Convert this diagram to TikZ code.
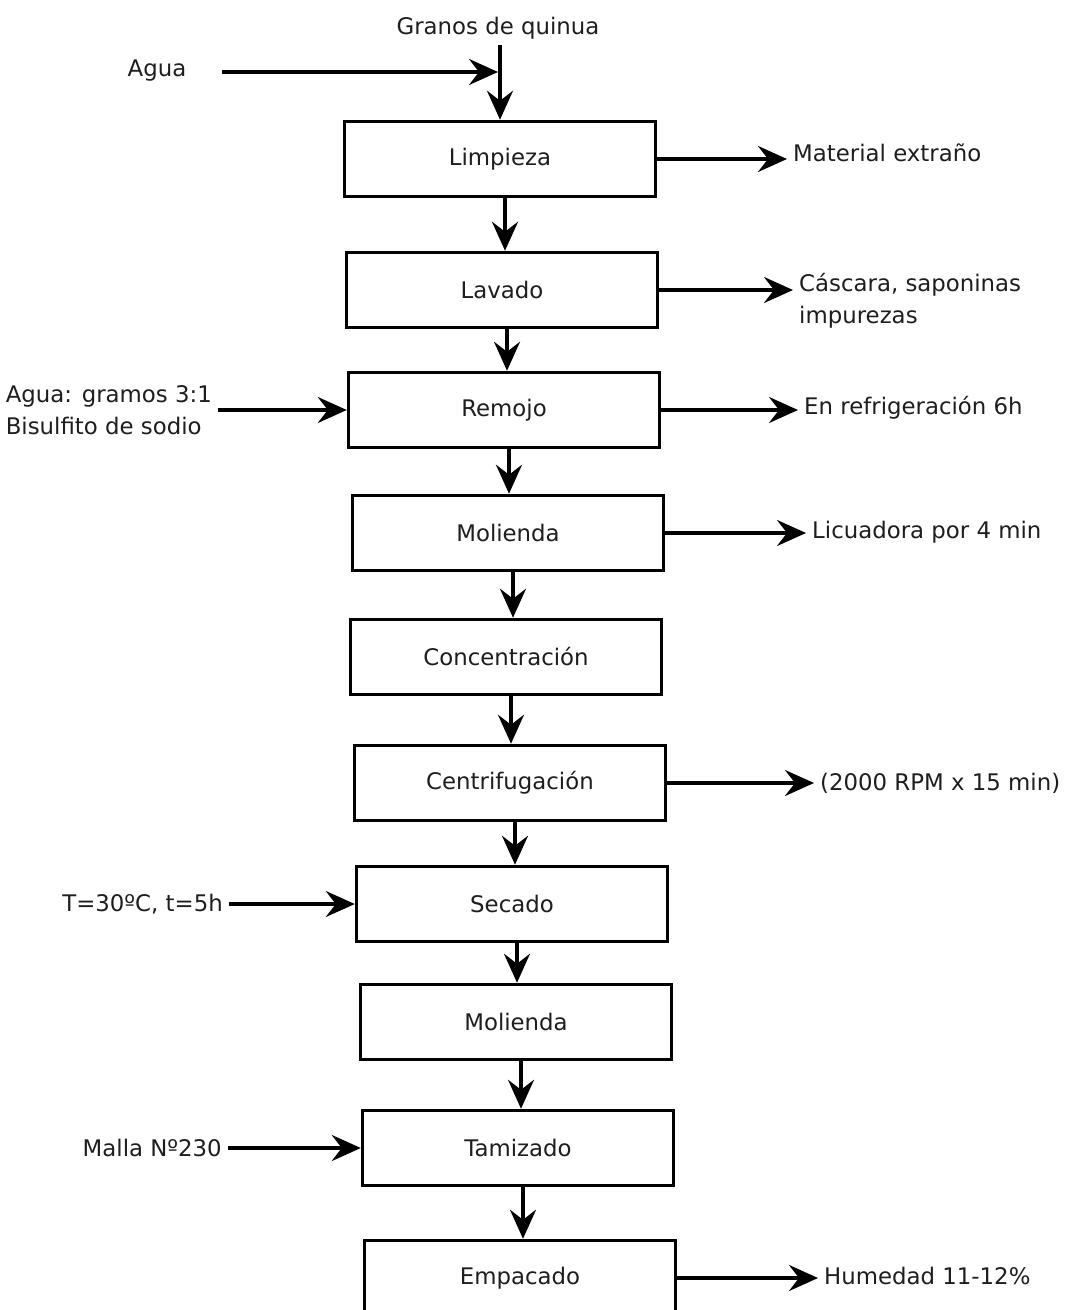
\documentclass[tikz,border=0pt]{standalone}
\usepackage{fontspec}
\setmainfont{DejaVu Sans}
\usepackage{tikz}
\usetikzlibrary{positioning, arrows.meta, calc}
\usepackage{xcolor}
\definecolor{flline}{HTML}{000000}
\definecolor{fltext}{HTML}{1E1E1E}

\begin{document}
\begin{tikzpicture}[x=0.02cm, y=-0.02cm, font=\fontsize{13}{18}\selectfont,
    proc/.style={draw=flline, line width=2pt, fill=white, text=fltext,
          minimum width=6.22cm, minimum height=1.5cm},
    side/.style={text=fltext, align=left},
    flow/.style={draw=flline, line width=2pt,
          -{Stealth[length=5.8mm, width=5.2mm, inset=2mm]}}]
    \clip (0,0) rectangle (1070,1310);
    \fill[white] (0,0) rectangle (1070,1310);
    % process steps
    \foreach \x/\y/\n/\w in {500/159/limpieza/Limpieza, 502/290/lavado/Lavado,
                          504/410/remojo/Remojo, 508/533/molienda/Molienda,
                          506/657/concentracion/Concentración,
                          510/783/centrifugacion/Centrifugación,
                          512/904/secado/Secado, 516/1022/molienda2/Molienda,
                          518/1148/tamizado/Tamizado, 520/1278/empacado/Empacado}{
      \node[proc] (\n) at (\x,\y) {\w};
    }
    \foreach \a/\b in {limpieza/lavado, lavado/remojo, remojo/molienda,
                       molienda/concentracion, concentracion/centrifugacion,
                       centrifugacion/secado, secado/molienda2,
                       molienda2/tamizado, tamizado/empacado}{
      \draw[flow] ([xshift=1mm]\a.south) -- ([xshift=1mm]\a.south |- \b.north);
    }
    % inputs
    \node[side] (granos) at (498,28) {Granos de quinua};
    \node[side] (agua) at (157,71) {Agua};
    \coordinate (aguain) at (222,72);
    \coordinate (junta) at (498,72);
    \draw[flow] (granos.south -| limpieza.north) -- (limpieza.north);
    \draw[flow] (aguain) -- (junta);
    \node[side, anchor=east] (aguaremojo) at (218,410) {Agua: gramos 3:1\\Bisulfito de sodio};
    \node[side, anchor=east] (temp) at (229,904) {T=30ºC, t=5h};
    \node[side, anchor=east] (malla) at (228,1148) {Malla Nº230};
    \draw[flow] (aguaremojo.east |- remojo.west) -- (remojo.west);
    \draw[flow] (temp.east |- secado.west) -- (secado.west);
    \draw[flow] (malla.east |- tamizado.west) -- (tamizado.west);
    % outputs
    \node[side, anchor=west] (extrano) at (787,153) {Material extraño};
    \node[side, anchor=west] (cascara) at (793,301) {Cáscara, saponinas\\impurezas};
    \node[side, anchor=west] (refri) at (798,408) {En refrigeración 6h};
    \node[side, anchor=west] (licua) at (806,532) {Licuadora por 4 min};
    \node[side, anchor=west] (rpm) at (814,783) {(2000 RPM x 15 min)};
    \node[side, anchor=west] (humedad) at (818,1276) {Humedad 11-12\%};
    \draw[flow] (limpieza.east) -- (limpieza.east -| extrano.west);
    \draw[flow] (lavado.east) -- (lavado.east -| cascara.west);
    \draw[flow] (remojo.east) -- (remojo.east -| refri.west);
    \draw[flow] (molienda.east) -- (molienda.east -| licua.west);
    \draw[flow] (centrifugacion.east) -- (centrifugacion.east -| rpm.west);
    \draw[flow] (empacado.east) -- (empacado.east -| humedad.west);
  \end{tikzpicture}
\end{document}
